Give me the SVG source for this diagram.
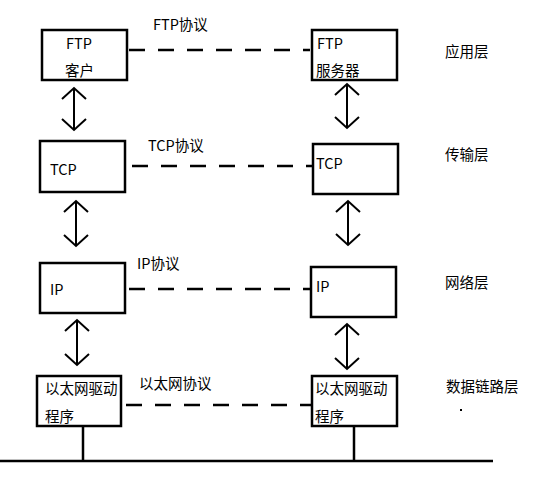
<svg xmlns="http://www.w3.org/2000/svg" width="549" height="500" viewBox="0 0 549 500">
<style>
.box{fill:#fff;stroke:#000;stroke-width:2.5}
.dash{stroke:#000;stroke-width:2.5;stroke-dasharray:16 13;fill:none}
.arr{stroke:#000;stroke-width:2;fill:none}
.ln{stroke:#000;stroke-width:2.5;fill:none}
text{font-family:"Noto Sans CJK SC","Microsoft YaHei",sans-serif;font-size:14.5px;fill:#000}
</style>
<rect width="549" height="500" fill="#fff"/>
<g id="connectors">
<line class="dash" x1="129" y1="50" x2="310" y2="50"/>
<line class="dash" x1="132" y1="166" x2="312" y2="166"/>
<line class="dash" x1="129" y1="289" x2="310" y2="289"/>
<line class="dash" x1="126" y1="405" x2="311" y2="405"/>
<path class="arr" d="M74 88V130M62 99L74 88L86 99M62 119L74 130L86 119"/>
<path class="arr" d="M347 84V128M335 95L347 84L359 95M335 117L347 128L359 117"/>
<path class="arr" d="M76 201V246M64 212L76 201L88 212M64 235L76 246L88 235"/>
<path class="arr" d="M348 201V245M336 212L348 201L360 212M336 234L348 245L360 234"/>
<path class="arr" d="M77 320V365M65 331L77 320L89 331M65 354L77 365L89 354"/>
<path class="arr" d="M347 324V369M335 335L347 324L359 335M335 358L347 369L359 358"/>
<line class="ln" x1="83" y1="426" x2="83" y2="461"/>
<line class="ln" x1="354" y1="426" x2="354" y2="461"/>
<line class="ln" x1="0" y1="461" x2="493" y2="461"/>
</g>
<g id="ftp-client"><rect class="box" x="42" y="30" width="85" height="50"/><text x="66" y="49">FTP</text><text x="65" y="76">客户</text></g>
<g id="ftp-server"><rect class="box" x="312" y="30" width="85" height="50"/><text x="317" y="49">FTP</text><text x="316" y="76">服务器</text></g>
<g id="tcp-client"><rect class="box" x="40" y="141" width="85" height="51"/><text x="50" y="175">TCP</text></g>
<g id="tcp-server"><rect class="box" x="313" y="144" width="85" height="50"/><text x="316" y="169">TCP</text></g>
<g id="ip-client"><rect class="box" x="40" y="263" width="85" height="50"/><text x="50" y="295">IP</text></g>
<g id="ip-server"><rect class="box" x="311" y="267" width="85" height="50"/><text x="316" y="292">IP</text></g>
<g id="eth-client"><rect class="box" x="37" y="376" width="84" height="50"/><text x="45" y="394">以太网驱动</text><text x="45" y="422">程序</text></g>
<g id="eth-server"><rect class="box" x="312" y="376" width="85" height="50"/><text x="315" y="394">以太网驱动</text><text x="315" y="422">程序</text></g>
<g id="labels">
<text x="153" y="30">FTP协议</text>
<text x="148" y="151">TCP协议</text>
<text x="137" y="269">IP协议</text>
<text x="139" y="389">以太网协议</text>
<text x="445" y="57">应用层</text>
<text x="445" y="160">传输层</text>
<text x="445" y="288">网络层</text>
<text x="446" y="392">数据链路层</text>
<rect x="460" y="409" width="2" height="2" fill="#000"/>
</g>
</svg>
